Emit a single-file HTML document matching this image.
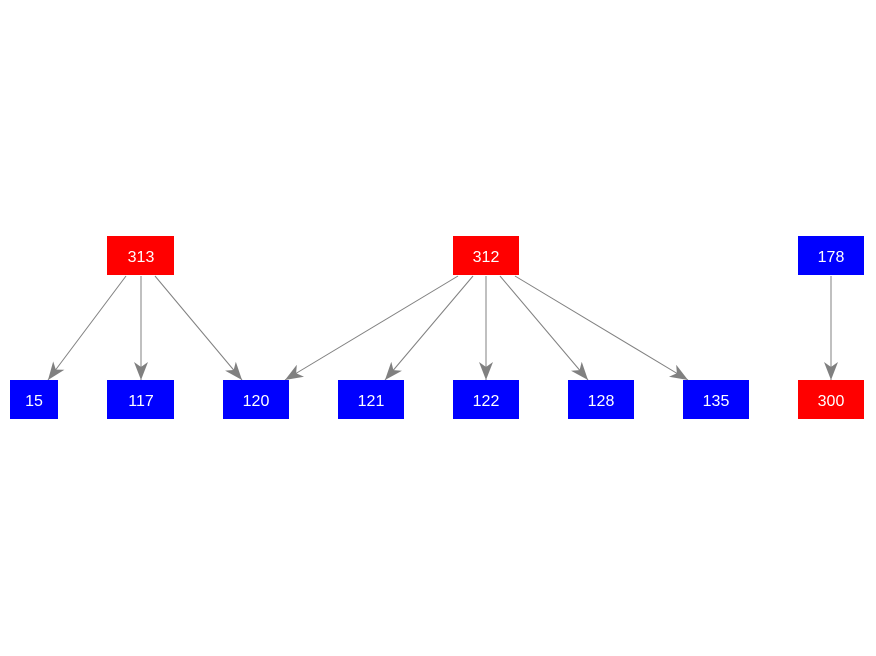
<!DOCTYPE html>
<html><head><style>body{margin:0;background:#fff}svg{display:block}</style></head><body>
<svg width="876" height="656" xmlns="http://www.w3.org/2000/svg" font-family="Liberation Sans, sans-serif" font-size="16">
<defs><marker id="a" viewBox="0 0 18 14" refX="18" refY="7" markerWidth="18" markerHeight="14" markerUnits="userSpaceOnUse" orient="auto"><path d="M0,0 L18,7 L0,14 L5,7 Z" fill="#808080"/></marker></defs>
<g stroke="#808080" stroke-width="1" marker-end="url(#a)">
<line x1="126" y1="276" x2="48" y2="380"/>
<line x1="141" y1="276" x2="141" y2="380"/>
<line x1="155" y1="276" x2="242" y2="380"/>
<line x1="458" y1="276" x2="285" y2="380"/>
<line x1="473" y1="276" x2="385" y2="380"/>
<line x1="486" y1="276" x2="486" y2="380"/>
<line x1="500" y1="276" x2="588" y2="380"/>
<line x1="515" y1="276" x2="688" y2="380"/>
<line x1="831" y1="276" x2="831" y2="380"/>
</g>
<g>
<rect x="107" y="236" width="67" height="39" fill="#f00"/>
<rect x="453" y="236" width="66" height="39" fill="#f00"/>
<rect x="798" y="236" width="66" height="39" fill="#00f"/>
<rect x="10" y="380" width="48" height="39" fill="#00f"/>
<rect x="107" y="380" width="67" height="39" fill="#00f"/>
<rect x="223" y="380" width="66" height="39" fill="#00f"/>
<rect x="338" y="380" width="66" height="39" fill="#00f"/>
<rect x="453" y="380" width="66" height="39" fill="#00f"/>
<rect x="568" y="380" width="66" height="39" fill="#00f"/>
<rect x="683" y="380" width="66" height="39" fill="#00f"/>
<rect x="798" y="380" width="66" height="39" fill="#f00"/>
</g>
<g fill="#fff" text-anchor="middle">
<text x="141" y="262">313</text>
<text x="486" y="262">312</text>
<text x="831" y="262">178</text>
<text x="34" y="406">15</text>
<text x="141" y="406">117</text>
<text x="256" y="406">120</text>
<text x="371" y="406">121</text>
<text x="486" y="406">122</text>
<text x="601" y="406">128</text>
<text x="716" y="406">135</text>
<text x="831" y="406">300</text>
</g>
</svg>
</body></html>
